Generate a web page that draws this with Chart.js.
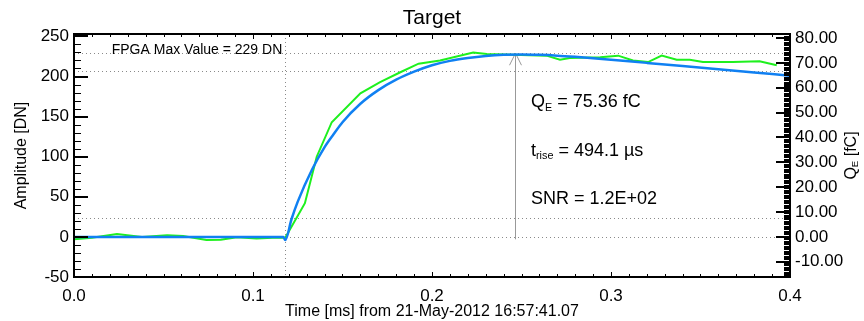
<!DOCTYPE html>
<html lang="en">
<head>
    <meta charset="UTF-8">
    <title>Target</title>
    <script src="https://cdn.jsdelivr.net/npm/chart.js"></script>
    <style>
        body { margin: 0; background: #fff; }
        canvas { display: block; }
    </style>
</head>
<body>
    <canvas id="pulseChart" width="864" height="321"></canvas>

    <script>
        // Measured pulse (green)
        const sampleTime = [0.000, 0.010, 0.024, 0.038, 0.052, 0.061, 0.074, 0.082, 0.091, 0.102, 0.111, 0.118,
            0.129, 0.1356, 0.144, 0.160, 0.171, 0.182, 0.1925, 0.2045, 0.223, 0.2306, 0.245, 0.264, 0.2715,
            0.277, 0.294, 0.304, 0.3123, 0.3207, 0.3283, 0.3367, 0.344, 0.3514, 0.368, 0.383, 0.3926];
        const sampleAmp = [-3, -1, 3.5, 0, 2, 1, -4, -3.5, -0.5, -2, -1, -1,
            42, 100, 143, 179, 193, 205, 216, 220, 230, 228, 227, 226, 221,
            223, 224, 226, 220, 218, 226, 221, 221, 218, 218, 219, 214];

        // Fitted pulse (blue)
        const fitTime = [0.000, 0.117, 0.118, 0.1215, 0.125, 0.133, 0.140, 0.145, 0.150, 0.160, 0.170, 0.180,
            0.190, 0.200, 0.210, 0.220, 0.230, 0.240, 0.250, 0.260, 0.270, 0.280, 0.300, 0.320, 0.340, 0.360,
            0.380, 0.400];
        const fitAmp = [0, 0, -4, 22, 44, 84, 112, 128, 143, 166, 183, 196,
            206, 214, 219.5, 223, 225.5, 227, 227.5, 227, 226, 224.5, 221, 217, 213, 209,
            205, 201];

        const timeTicks = [0.0, 0.1, 0.2, 0.3, 0.4];
        const ampTicks = [-50, 0, 50, 100, 150, 200, 250];
        const chargeTicks = [-10, 0, 10, 20, 30, 40, 50, 60, 70, 80];

        const fpgaMax = 229;
        const levelLines = [229, 207, 23, 0];
        const triggerTime = 0.118;
        const peakTime = 0.2464;
        const ampRange = [-50, 253];
        const dnPerFc = 3.1;

        const annotations = [
            [['Q', false], ['E', true], [' = 75.36 fC', false]],
            [['t', false], ['rise', true], [' = 494.1 \u00b5s', false]],
            [['SNR = 1.2E+02', false]]
        ];

        const FONT = '"Liberation Sans", Arial, Helvetica, sans-serif';

        // draw text with subscript parts, returns width
        function drawParts(ctx, parts, x, y, size, measureOnly) {
            let w = 0;
            parts.forEach(([txt, sub]) => {
                const s = sub ? size * 0.6 : size;
                ctx.font = s + 'px ' + FONT;
                if (!measureOnly) ctx.fillText(txt, x + w, y + (sub ? size * 0.22 : 0));
                w += ctx.measureText(txt).width;
            });
            return w;
        }

        const framePlugin = {
            id: 'frame',
            beforeDatasetsDraw(chart) {
                const { ctx, chartArea: a, scales } = chart;
                const x = scales.x, y = scales.y;
                ctx.save();
                // dotted reference lines
                ctx.strokeStyle = '#8a8a8a';
                ctx.lineWidth = 1;
                ctx.setLineDash([1, 3]);
                levelLines.forEach(v => {
                    const py = Math.round(y.getPixelForValue(v)) + 0.5;
                    ctx.beginPath();
                    ctx.moveTo(a.left, py);
                    ctx.lineTo(a.right, py);
                    ctx.stroke();
                });
                const tx = Math.round(x.getPixelForValue(triggerTime)) + 0.5;
                ctx.beginPath();
                ctx.moveTo(tx, a.top);
                ctx.lineTo(tx, a.bottom);
                ctx.stroke();
                ctx.setLineDash([]);

                // arrow to peak
                const px = Math.round(x.getPixelForValue(peakTime)) + 0.5;
                const tipY = y.getPixelForValue(fpgaMax);
                ctx.strokeStyle = '#999';
                ctx.beginPath();
                ctx.moveTo(px, y.getPixelForValue(-3));
                ctx.lineTo(px, tipY);
                ctx.moveTo(px - 6, tipY + 12);
                ctx.lineTo(px, tipY);
                ctx.lineTo(px + 6, tipY + 12);
                ctx.stroke();
                ctx.restore();
            },
            afterDatasetsDraw(chart) {
                const { ctx, chartArea: a, scales } = chart;
                const x = scales.x, y = scales.y, y2 = scales.y2;
                ctx.save();
                ctx.strokeStyle = '#000';
                ctx.fillStyle = '#000';

                // minor / major ticks
                ctx.lineWidth = 1;
                ctx.beginPath();
                for (let i = 0; i <= 40; i++) {
                    const px = Math.round(x.getPixelForValue(i / 100)) + 0.5;
                    const len = i % 10 === 0 ? 5 : 3;
                    ctx.moveTo(px, a.bottom); ctx.lineTo(px, a.bottom - len);
                    ctx.moveTo(px, a.top); ctx.lineTo(px, a.top + len);
                }
                for (let v = -50; v <= 250; v += 10) {
                    const py = Math.round(y.getPixelForValue(v)) + 0.5;
                    const len = v % 50 === 0 ? 14 : 7;
                    ctx.moveTo(a.left, py); ctx.lineTo(a.left + len, py);
                }
                for (let i = -32; i <= 163; i++) {
                    const py = Math.round(y2.getPixelForValue(i / 2)) + 0.5;
                    ctx.moveTo(a.right, py); ctx.lineTo(a.right - 6, py);
                }
                ctx.stroke();
                ctx.lineWidth = 2;
                ctx.beginPath();
                for (let v = -50; v <= 250; v += 50) {
                    const py = Math.round(y.getPixelForValue(v));
                    ctx.moveTo(a.left, py); ctx.lineTo(a.left + 14, py);
                }
                chargeTicks.forEach(q => {
                    const py = Math.round(y2.getPixelForValue(q));
                    ctx.moveTo(a.right, py); ctx.lineTo(a.right - 14, py);
                });
                ctx.stroke();

                // axis box
                ctx.lineWidth = 2;
                ctx.strokeRect(a.left, a.top, a.right - a.left, a.bottom - a.top);

                // FPGA label
                ctx.font = '14px ' + FONT;
                ctx.textAlign = 'center';
                ctx.textBaseline = 'alphabetic';
                ctx.fillText('FPGA Max Value = ' + fpgaMax + ' DN', 197, y.getPixelForValue(fpgaMax) + 0.5);

                // fit results
                ctx.textAlign = 'left';
                annotations.forEach((parts, i) => {
                    drawParts(ctx, parts, 531, 107 + i * 48.5, 18, false);
                });

                // axis titles
                ctx.font = '16px ' + FONT;
                ctx.textAlign = 'center';
                ctx.textBaseline = 'middle';
                ctx.fillText('Time [ms] from 21-May-2012 16:57:41.07', (a.left + a.right) / 2, 312);
                ctx.save();
                ctx.translate(22, (a.top + a.bottom) / 2);
                ctx.rotate(-Math.PI / 2);
                ctx.fillText('Amplitude [DN]', 0, 0);
                ctx.restore();

                ctx.save();
                ctx.translate(852, (a.top + a.bottom) / 2);
                ctx.rotate(-Math.PI / 2);
                ctx.textAlign = 'left';
                const qParts = [['Q', false], ['E', true], [' [fC]', false]];
                const w = drawParts(ctx, qParts, 0, 0, 16, true);
                drawParts(ctx, qParts, -w / 2, 0, 16, false);
                ctx.restore();

                ctx.restore();
            }
        };

        const tickFont = { family: FONT, size: 17 };

        new Chart(document.getElementById('pulseChart'), {
            type: 'line',
            data: {
                datasets: [{
                    label: 'Data',
                    data: sampleTime.map((t, i) => ({ x: t, y: sampleAmp[i] })),
                    borderColor: '#1ef01e',
                    borderWidth: 2,
                    pointRadius: 0,
                    tension: 0,
                    yAxisID: 'y',
                    order: 2
                }, {
                    label: 'Fit',
                    data: fitTime.map((t, i) => ({ x: t, y: fitAmp[i] })),
                    borderColor: '#1080f2',
                    borderWidth: 2.5,
                    pointRadius: 0,
                    cubicInterpolationMode: 'monotone',
                    yAxisID: 'y',
                    order: 1
                }]
            },
            options: {
                responsive: false,
                animation: false,
                devicePixelRatio: 1,
                layout: { padding: 0 },
                plugins: {
                    legend: { display: false },
                    tooltip: { enabled: false },
                    title: {
                        display: true,
                        text: 'Target',
                        color: '#000',
                        font: { family: FONT, size: 21, weight: 'normal' },
                        padding: { top: 6, bottom: 2.8 }
                    }
                },
                scales: {
                    x: {
                        type: 'linear',
                        min: 0,
                        max: 0.4,
                        afterBuildTicks: s => { s.ticks = timeTicks.map(v => ({ value: v })); },
                        afterFit: s => { s.height = 44; },
                        grid: { display: false, drawTicks: false },
                        border: { display: false },
                        ticks: {
                            padding: 9, color: '#000', font: tickFont, maxRotation: 0, autoSkip: false,
                            callback: v => v.toFixed(1)
                        }
                    },
                    y: {
                        position: 'left',
                        min: ampRange[0],
                        max: ampRange[1],
                        afterBuildTicks: s => { s.ticks = ampTicks.map(v => ({ value: v })); },
                        afterFit: s => { s.width = 74; },
                        grid: { display: false, drawTicks: false },
                        border: { display: false },
                        ticks: { padding: 5, color: '#000', font: tickFont, callback: v => String(v) }
                    },
                    y2: {
                        position: 'right',
                        min: ampRange[0] / dnPerFc,
                        max: ampRange[1] / dnPerFc,
                        afterBuildTicks: s => { s.ticks = chargeTicks.map(v => ({ value: v })); },
                        afterFit: s => { s.width = 74; },
                        grid: { display: false, drawTicks: false },
                        border: { display: false },
                        ticks: { padding: 5, color: '#000', font: tickFont, callback: v => v.toFixed(2) }
                    }
                }
            },
            plugins: [framePlugin]
        });
    </script>
</body>
</html>
